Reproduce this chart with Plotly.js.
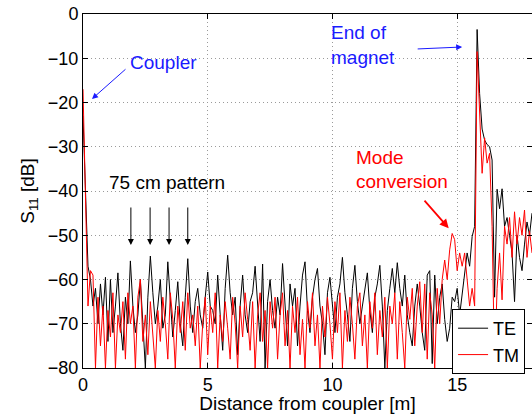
<!DOCTYPE html>
<html>
<head>
<meta charset="utf-8">
<script src="https://cdn.plot.ly/plotly-3.0.1.min.js"></script>
<style>html,body{margin:0;padding:0;background:#fff}#chart{width:532px;height:414px}</style>
</head>
<body>
<div id="chart"></div>
<script>
// Sample grid: distance from coupler, 0 to 18 m in 0.1 m steps
const sampleStep = 0.1;
const sampleCount = 181;
const distance = Array.from({length: sampleCount}, (_, i) => +(i * sampleStep).toFixed(1));

// TE reflection S11 [dB]
const teValues = [
  -23, -42, -57, -60, -66, -62, -70, -61, -68, -59.5,
  -74, -60, -72, -66, -58.5, -70, -76, -64, -70, -55.8,
  -66, -72, -68, -60, -70, -80, -64, -54.7, -63, -70,
  -66, -60, -71, -68, -56, -64, -73, -67, -60.5, -70,
  -75, -64, -55.3, -66, -72, -65, -62, -68, -71, -64,
  -58.3, -66, -67, -70, -59, -68, -76, -62, -54.5, -63,
  -68, -64, -77, -66, -59, -68, -72, -65, -63, -57,
  -66, -74, -56.5, -80, -65, -60, -67, -71, -64, -68,
  -56.4, -65, -75, -61, -66, -62, -75, -66, -59, -56,
  -67, -72, -64, -60, -57.5, -66, -70, -77, -63, -59.5,
  -66, -72, -64, -61, -55, -63, -68, -74, -62, -56.8,
  -65, -70, -66, -62, -58.5, -67, -72, -64, -61, -56.8,
  -66, -80, -67, -62, -57.5, -63, -56.2, -62, -66, -59,
  -68, -72, -75, -66, -61, -66, -72, -76, -59, -58,
  -79, -59, -70, -64, -61, -69, -74, -71, -64, -65,
  -62, -68, -63, -58, -54, -57, -50.3, -48, -3.5, -18,
  -26, -28.5, -29.5, -30, -33, -64, -39.6, -44, -39.5, -48,
  -46, -50, -54, -65, -50, -55, -58, -52, -47, -50,
  -45
];

// TM reflection S11 [dB]
const tmValues = [
  -17, -45, -66, -58, -59, -80, -64, -75, -66, -80,
  -67, -73, -63, -80, -68, -72, -65, -78, -63, -70,
  -66, -80, -64, -60, -74, -68, -77, -65, -72, -80,
  -67, -74, -64, -70, -78, -63, -69, -80, -66, -72,
  -65, -76, -63, -71, -68, -75, -66, -80, -70, -64,
  -77, -66, -72, -63, -80, -68, -74, -65, -71, -78,
  -64, -70, -80, -66, -73, -63, -69, -76, -65, -80,
  -68, -63, -74, -67, -80, -65, -71, -64, -78, -68,
  -63, -75, -67, -80, -66, -72, -64, -77, -69, -80,
  -65, -71, -63, -75, -68, -80, -66, -73, -64, -70,
  -78, -65, -72, -63, -80, -67, -74, -64, -70, -78,
  -66, -63, -75, -68, -80, -65, -71, -63, -77, -67,
  -73, -64, -80, -66, -70, -63, -78, -65, -72, -80,
  -64, -69, -62, -75, -66, -60.5, -72, -61, -78, -63,
  -68, -80, -62, -70, -60, -55.6, -60, -53.3, -49.6, -51,
  -58, -54, -57, -54, -60, -66, -62, -66, -8.5, -21,
  -36, -28, -33.7, -31.5, -48, -80, -62, -54, -64.6, -48,
  -52, -46, -55, -44.7, -52, -46, -50, -44.3, -55, -49,
  -54
];

const xTicks = [0, 5, 10, 15];
const yTicks = [0, -10, -20, -30, -40, -50, -60, -70, -80];
const patternArrowX = [1.92, 2.69, 3.45, 4.20];

const FONT = 'Liberation Sans, Arial, Helvetica, sans-serif';
const TXT = 19;

const traces = [
  {x: distance, y: teValues, type: 'scatter', mode: 'lines', name: 'TE',
   line: {color: '#000000', width: 1}},
  {x: distance, y: tmValues, type: 'scatter', mode: 'lines', name: 'TM',
   line: {color: '#ff0000', width: 1}}
];

const blue = '#1a1aff';
const annotations = [
  {x: 3.21, y: -10.85, text: 'Coupler', showarrow: false, font: {family: FONT, size: TXT, color: blue}},
  {x: 0.36, y: -19.2, ax: 35, ay: -31, text: '', showarrow: true, arrowhead: 2, arrowsize: 1.2, arrowwidth: 1, arrowcolor: blue},
  {x: 9.86, y: -4.29, xanchor: 'left', text: 'End of', showarrow: false, font: {family: FONT, size: TXT, color: blue}},
  {x: 9.86, y: -9.94, xanchor: 'left', text: 'magnet', showarrow: false, font: {family: FONT, size: TXT, color: blue}},
  {x: 15.2, y: -7.46, ax: -46, ay: 2, text: '', showarrow: true, arrowhead: 2, arrowsize: 1.2, arrowwidth: 1, arrowcolor: blue},
  {x: 3.37, y: -37.97, text: '75 cm pattern', showarrow: false, font: {family: FONT, size: TXT, color: '#000'}},
  {x: 10.88, y: -32.5, xanchor: 'left', text: 'Mode', showarrow: false, font: {family: FONT, size: TXT, color: '#ff0000'}},
  {x: 10.88, y: -37.9, xanchor: 'left', text: 'conversion', showarrow: false, font: {family: FONT, size: TXT, color: '#ff0000'}},
  {x: 14.66, y: -48.4, ax: -25.5, ay: -29, text: '', showarrow: true, arrowhead: 2, arrowsize: 1, arrowwidth: 1.8, arrowcolor: '#ff0000'}
];
patternArrowX.forEach(px => annotations.push(
  {x: px, y: -52.2, ax: 0, ay: -39, text: '', showarrow: true, arrowhead: 2, arrowsize: 1.2, arrowwidth: 1, arrowcolor: '#000'}
));

const layout = {
  width: 532, height: 414,
  margin: {l: 83, r: 0, t: 14, b: 46, pad: 0},
  paper_bgcolor: '#fff', plot_bgcolor: '#fff',
  font: {family: FONT, size: 18, color: '#000'},
  showlegend: true,
  legend: {x: 0.822, y: 0.1667, xanchor: 'left', yanchor: 'top', bgcolor: '#fff',
           bordercolor: '#000', borderwidth: 1, font: {family: FONT, size: 18},
           tracegroupgap: 0, itemwidth: 30, entrywidth: 30, entrywidthmode: 'pixels'},
  xaxis: {range: [0, 18], tickvals: xTicks, ticktext: xTicks.map(String),
          ticks: 'inside', ticklen: 5, tickcolor: '#000', showline: true, linecolor: '#000',
          linewidth: 1, mirror: 'ticks', showgrid: true, gridcolor: '#9a9a9a', griddash: '1px,3px',
          zeroline: false, tickfont: {family: FONT, size: 18},
          title: {text: 'Distance from coupler [m]', font: {family: FONT, size: TXT}, standoff: 0}},
  yaxis: {range: [-80, 0], tickvals: yTicks,
          ticks: 'inside', ticklen: 5, tickcolor: '#000', showline: true, linecolor: '#000',
          linewidth: 1, mirror: 'ticks', showgrid: true, gridcolor: '#9a9a9a', griddash: '1px,3px',
          zeroline: false, tickfont: {family: FONT, size: 18},
          title: {text: 'S<sub>11</sub> [dB]', font: {family: FONT, size: TXT}, standoff: 8}},
  annotations: annotations
};

Plotly.newPlot('chart', traces, layout, {staticPlot: true, displayModeBar: false});
</script>
</body>
</html>
